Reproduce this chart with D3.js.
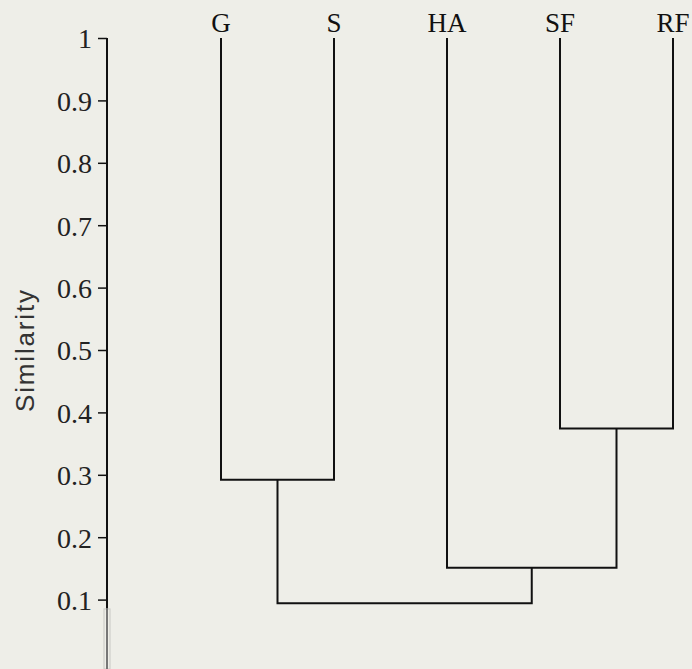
<!DOCTYPE html>
<html>
<head>
<meta charset="utf-8">
<script src="https://cdn.jsdelivr.net/npm/d3@7"></script>
<style>
  html, body { margin: 0; padding: 0; background: #eeeee8; }
  svg { display: block; }
</style>
</head>
<body>
<div id="app"></div>
<script>
const width = 692;
const height = 669;

// leaves of the dendrogram, left to right
const leaves = ["G", "S", "HA", "SF", "RF"];
// merges: which two clusters join and at what similarity
const mergeLeft = ["G", "SF", "HA", "G+S"];
const mergeRight = ["S", "RF", "SF+RF", "HA+SF+RF"];
const mergeSimilarity = [0.292, 0.374, 0.151, 0.094];
const tickValues = [0.1, 0.2, 0.3, 0.4, 0.5, 0.6, 0.7, 0.8, 0.9, 1];

const xScale = d3.scalePoint().domain(leaves).range([221, 673]);
const yScale = d3.scaleLinear().domain([0, 1]).range([662, 38]);

const svg = d3.select("#app").append("svg")
  .attr("width", width)
  .attr("height", height);

// node positions: leaves sit at similarity 1
const nodes = {};
leaves.forEach(l => { nodes[l] = { x: xScale(l), s: 1 }; });

const lines = svg.append("g")
  .attr("fill", "none")
  .attr("stroke", "#111")
  .attr("stroke-width", 2);

mergeLeft.forEach((l, i) => {
  const r = mergeRight[i];
  const s = mergeSimilarity[i];
  const a = nodes[l], b = nodes[r];
  lines.append("path")
    .attr("d", `M${a.x},${yScale(a.s)}V${yScale(s)}H${b.x}V${yScale(b.s)}`);
  nodes[l + "+" + r] = { x: (a.x + b.x) / 2, s: s };
});

// leaf labels
svg.append("g")
  .selectAll("text")
  .data(leaves)
  .join("text")
  .attr("x", d => xScale(d))
  .attr("y", 32)
  .attr("text-anchor", "middle")
  .attr("font-family", "'Liberation Serif', 'Times New Roman', serif")
  .attr("font-size", 27)
  .attr("fill", "#111")
  .text(d => d);

// y axis
const axis = svg.append("g")
  .attr("transform", "translate(107,0)")
  .call(d3.axisLeft(yScale)
    .tickValues(tickValues)
    .tickSize(9)
    .tickPadding(6)
    .tickFormat(d => d === 1 ? "1" : d.toFixed(1)));
axis.attr("font-family", "'Liberation Serif', 'Times New Roman', serif")
  .attr("font-size", 28);
axis.select(".domain").remove();
axis.selectAll(".tick line").attr("stroke", "#111").attr("stroke-width", 1.5);
axis.selectAll(".tick text")
  .attr("fill", "#222")
  .attr("dy", "0.35em");

axis.append("line")
  .attr("x1", 0).attr("x2", 0)
  .attr("y1", yScale(1)).attr("y2", yScale(0.085))
  .attr("stroke", "#111")
  .attr("stroke-width", 2);

// faint continuation of the axis below 0.1
axis.append("rect")
  .attr("x", -3).attr("y", yScale(0.085))
  .attr("width", 6).attr("height", height - yScale(0.085))
  .attr("fill", "none")
  .attr("stroke", "#c8c8c4")
  .attr("stroke-width", 1);
axis.append("line")
  .attr("x1", 0).attr("x2", 0)
  .attr("y1", yScale(0.085)).attr("y2", height)
  .attr("stroke", "#777")
  .attr("stroke-width", 2);

// axis title
svg.append("text")
  .attr("transform", `translate(34,351) rotate(-90)`)
  .attr("text-anchor", "middle")
  .attr("font-family", "'Liberation Sans', Arial, sans-serif")
  .attr("font-size", 26)
  .attr("fill", "#333")
  .attr("textLength", 122)
  .text("Similarity");
</script>
</body>
</html>
